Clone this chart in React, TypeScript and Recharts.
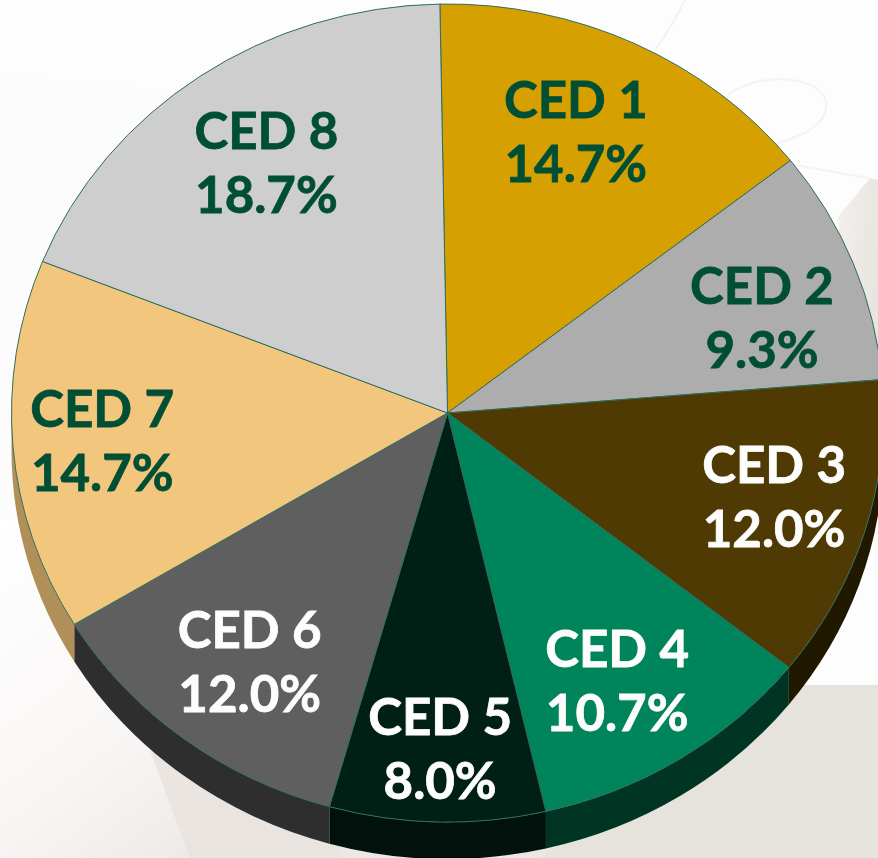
import React from 'react';
import { PieChart, Pie } from 'recharts';

const categories = ['CED 1', 'CED 2', 'CED 3', 'CED 4', 'CED 5', 'CED 6', 'CED 7', 'CED 8'];
const shares = [14.7, 9.3, 12.0, 10.7, 8.0, 12.0, 14.7, 18.7];
const topColors = ['#D6A100', '#ADADAD', '#4F3A04', '#00845C', '#002016', '#5F5F5F', '#F2C67C', '#CECECE'];
const wallColors = ['#8F6C00', '#747474', '#211800', '#003524', '#00120B', '#2E2E2E', '#B08F58', '#8A8A8A'];
const labelColors = ['#004F35', '#004F35', '#FDFDFB', '#FDFDFB', '#FDFDFB', '#FDFDFB', '#004F35', '#004F35'];

const topData = categories.map((name, i) => ({ name, value: shares[i], fill: topColors[i] }));
const wallData = categories.map((name, i) => ({ name, value: shares[i], fill: wallColors[i] }));

// the pie is tilted, so the circle gets squashed into an ellipse
const SQUASH = 409 / 436;
const DEPTH = 37;
const RAD = Math.PI / 180;
// how far out each label sits, as a share of the radius, then a small hand nudge
const LABEL_RADIUS = [0.744, 0.76, 0.778, 0.767, 0.824, 0.76, 0.79, 0.735];
const LABEL_NUDGE = [[-11, -6], [6, 18], [2, -8], [-9, 3], [1, -1], [3, 2], [-2, 2], [1, -3]];

const pt = (cx: number, cy: number, r: number, deg: number) => ({
  x: cx + r * Math.cos(deg * RAD),
  y: cy - r * SQUASH * Math.sin(deg * RAD),
});

const TopSlice = (props: any) => {
  const { cx, cy, outerRadius, startAngle, endAngle, fill } = props;
  const a = pt(cx, cy, outerRadius, startAngle);
  const b = pt(cx, cy, outerRadius, endAngle);
  const large = Math.abs(startAngle - endAngle) > 180 ? 1 : 0;
  const ry = outerRadius * SQUASH;
  const d = `M${cx},${cy}L${a.x},${a.y}A${outerRadius},${ry} 0 ${large} 1 ${b.x},${b.y}Z`;
  return <path d={d} fill={fill} stroke="#2F6E5C" strokeWidth={1} strokeLinejoin="round" />;
};

const WallSlice = (props: any) => {
  const { cx, cy, outerRadius, startAngle, endAngle, fill } = props;
  // only the front half of the rim can be seen
  const from = Math.min(startAngle, 0);
  const to = Math.max(endAngle, -180);
  if (from <= to) return <g />;
  const a = pt(cx, cy, outerRadius, from);
  const b = pt(cx, cy, outerRadius, to);
  const ry = outerRadius * SQUASH;
  const d =
    `M${a.x},${a.y}A${outerRadius},${ry} 0 0 1 ${b.x},${b.y}` +
    `L${b.x},${b.y + DEPTH}A${outerRadius},${ry} 0 0 0 ${a.x},${a.y + DEPTH}Z`;
  return <path d={d} fill={fill} />;
};

const renderLabel = (props: any) => {
  const { cx, cy, outerRadius, midAngle, index, name, value } = props;
  const p = pt(cx, cy, outerRadius * LABEL_RADIUS[index], midAngle);
  const x = p.x + LABEL_NUDGE[index][0];
  const y = p.y + LABEL_NUDGE[index][1];
  return (
    <text
      x={x}
      textAnchor="middle"
      fontFamily="Lato, sans-serif"
      fontWeight={700}
      fontSize={51}
      fill={labelColors[index]}
      stroke={labelColors[index]}
      strokeWidth={0.8}
    >
      <tspan x={x} y={y - 14}>{name}</tspan>
      <tspan x={x} y={y + 50}>{value.toFixed(1)}%</tspan>
    </text>
  );
};

const Backdrop = () => (
  <svg width={878} height={858} style={{ position: 'absolute', left: 0, top: 0 }}>
    <defs>
      <linearGradient id="floor" x1="0" y1="0" x2="0.75" y2="1">
        <stop offset="0" stopColor="#FFFFFF" />
        <stop offset="0.55" stopColor="#F9F7F6" />
        <stop offset="1" stopColor="#EBE6E2" />
      </linearGradient>
      <linearGradient id="edge" x1="0" y1="0" x2="1" y2="0.4">
        <stop offset="0" stopColor="#F3F0ED" />
        <stop offset="1" stopColor="#E8E4E0" />
      </linearGradient>
    </defs>
    <rect width={878} height={858} fill="#FEFDFD" />
    <path d="M0,75 L170,90 L0,860 Z" fill="#FDFCFC" />
    <path d="M0,520 L70,520 L340,800 L340,858 L0,858 Z" fill="url(#floor)" />
    <path d="M150,750 L340,790 L560,790 L560,858 L190,858 Z" fill="#E9E3DF" opacity={0.85} />
    <path d="M780,685 L878,685 L878,858 L540,858 Z" fill="#E6E2DC" />
    <path d="M838,217 L870,178 L878,180 L878,380 L850,380 Z" fill="url(#edge)" />
    <g fill="none" stroke="#F5F2F0" strokeWidth={2}>
      <path d="M655,50 Q670,30 685,0" />
      <path d="M728,95 C760,70 830,75 826,108 C822,135 780,140 775,145" />
      <path d="M795,165 L868,178" />
    </g>
  </svg>
);

export default function App() {
  return (
    <div style={{ position: 'absolute', left: 0, top: 0, width: 878, height: 858, overflow: 'hidden' }}>
      <Backdrop />
      <div style={{ position: 'absolute', left: 0, top: 0 }}>
        <PieChart width={878} height={858} margin={{ top: 0, right: 0, bottom: 0, left: 0 }}>
          <Pie
            data={wallData}
            dataKey="value"
            nameKey="name"
            cx={447.5}
            cy={413}
            outerRadius={436}
            startAngle={91}
            endAngle={-269}
            shape={WallSlice}
            isAnimationActive={false}
            label={false}
            labelLine={false}
          />
          <Pie
            data={topData}
            dataKey="value"
            nameKey="name"
            cx={447.5}
            cy={413}
            outerRadius={436}
            startAngle={91}
            endAngle={-269}
            shape={TopSlice}
            isAnimationActive={false}
            label={renderLabel}
            labelLine={false}
          />
        </PieChart>
      </div>
    </div>
  );
}
